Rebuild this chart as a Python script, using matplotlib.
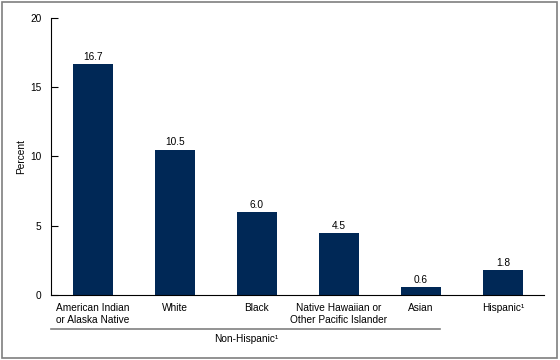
import matplotlib
matplotlib.use("Agg")
import matplotlib.pyplot as plt
from matplotlib.patches import Rectangle
from matplotlib.lines import Line2D
import matplotlib.transforms as mtransforms

plt.rcParams['font.family'] = ['Liberation Sans', 'DejaVu Sans']

groups = ["American Indian\nor Alaska Native", "White", "Black",
          "Native Hawaiian or\nOther Pacific Islander", "Asian", "Hispanic\u00b9"]
values = [16.7, 10.5, 6.0, 4.5, 0.6, 1.8]
yticks = [0, 5, 10, 15, 20]

fs = 7.3
fig = plt.figure(figsize=(5.6, 3.6), dpi=100)
ax = fig.add_axes([0.0911, 0.1806, 0.8803, 0.7694])

x = list(range(len(groups)))
ax.bar(x, values, width=0.49, color="#002856")
for xi, v in zip(x, values):
    ax.annotate(f"{v:.1f}", (xi, v), xytext=(0, 1.5), textcoords="offset points",
                ha="center", va="bottom", fontsize=fs)

ax.set_xlim(-0.51, 5.5)
ax.set_ylim(0, 20)
ax.set_yticks(yticks)
ax.set_xticks(x)
ax.set_xticklabels(groups, fontsize=fs, linespacing=1.15)
ax.tick_params(axis="x", length=0, pad=6)
ax.tick_params(axis="y", direction="in", length=5, labelsize=fs, pad=7)
ax.spines["top"].set_visible(False)
ax.spines["right"].set_visible(False)
ax.set_ylabel("Percent", fontsize=fs, labelpad=3)

# Non-Hispanic bracket line and label
trans = mtransforms.blended_transform_factory(ax.transData, fig.transFigure)
ax.add_line(Line2D([-0.51, 4.23], [0.086, 0.086], transform=trans,
                   color="#808080", lw=1.2, clip_on=False))
ax.text(1.87, 0.057, "Non-Hispanic\u00b9", transform=trans, ha="center",
        va="center", fontsize=fs)

# outer border
fig.patches.append(Rectangle((0.004, 0.006), 0.99, 0.988, transform=fig.transFigure,
                             fill=False, edgecolor="#7f7f7f", lw=1.2))

fig.savefig("out.png", dpi=100)
